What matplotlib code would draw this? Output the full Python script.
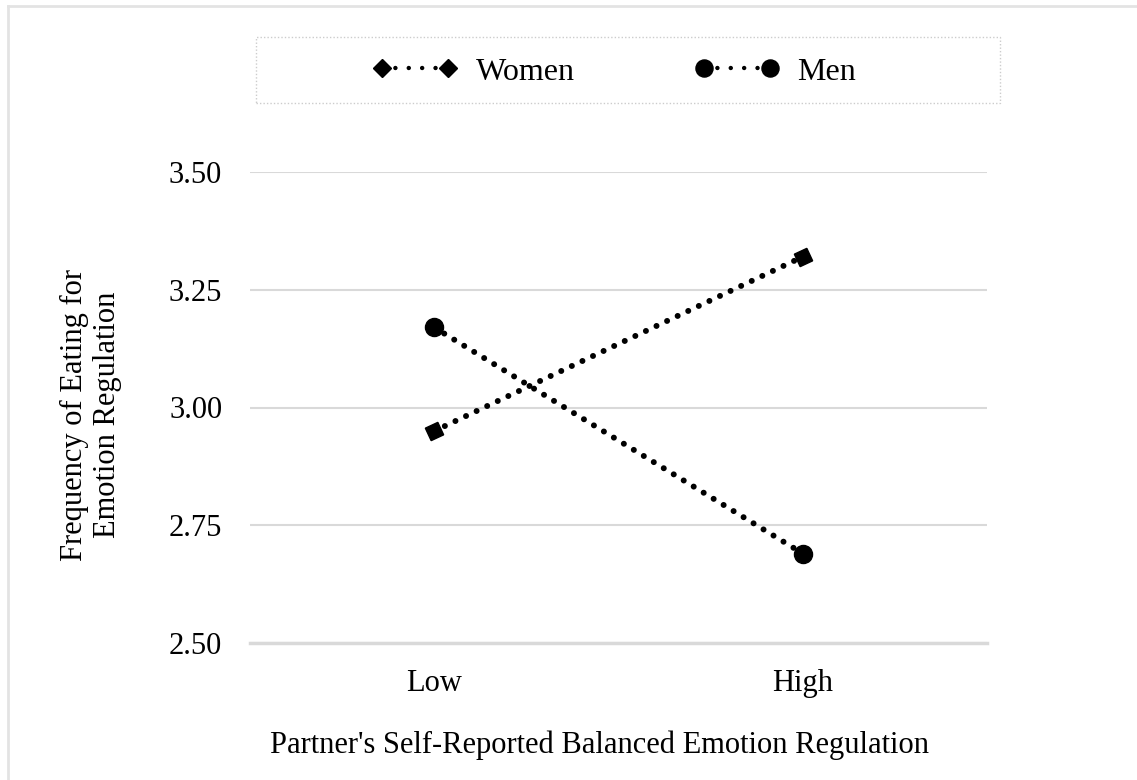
import matplotlib.pyplot as plt
from matplotlib.lines import Line2D
from matplotlib.legend_handler import HandlerLine2D

# Data
groups = ["Low", "High"]
women = [2.95, 3.32]
men = [3.17, 2.69]
y_ticks = [2.50, 2.75, 3.00, 3.25, 3.50]

plt.rcParams["font.family"] = ["Liberation Serif", "DejaVu Serif"]

DOTS = (0, (0.01, 1.95))
LW = 4.3

fig = plt.figure(figsize=(11.37, 7.8), dpi=100)
ax = fig.add_axes([250 / 1137, 1 - 643 / 780, 737 / 1137, 471 / 780])

x = [0, 1]
# diamonds in the plot are drawn tilted along the line
ax.plot(x, women, linestyle=DOTS, linewidth=LW, color="black",
        marker=(4, 0, 70), markersize=14, dash_capstyle="round", label="Women")
ax.plot(x, men, linestyle=DOTS, linewidth=LW, color="black",
        marker="o", markersize=13, dash_capstyle="round", label="Men")

ax.set_xlim(-0.5, 1.5)
ax.set_ylim(2.50, 3.50)
ax.set_xticks(x)
ax.set_xticklabels(groups)
ax.set_yticks(y_ticks)
ax.set_yticklabels([f"{v:.2f}" for v in y_ticks])
ax.tick_params(length=0, labelsize=22)
ax.tick_params(axis="y", pad=20)
ax.tick_params(axis="x", pad=19)
ax.grid(axis="y", color="#d9d9d9", linewidth=1.5)
ax.set_axisbelow(True)
for s in ["top", "right", "left"]:
    ax.spines[s].set_visible(False)
ax.spines["bottom"].set_color("#d9d9d9")
ax.spines["bottom"].set_linewidth(2.5)

ax.set_xlabel("Partner's Self-Reported Balanced Emotion Regulation", fontsize=22)
ax.xaxis.set_label_coords((600 - 250) / 737, -(745 - 643) / 471)
ax.xaxis.label.set_va("center")
ax.set_ylabel("Frequency of Eating for\nEmotion Regulation", fontsize=22, linespacing=1.15)
ax.yaxis.set_label_coords(-(250 - 91) / 737, (643 - 415) / 471)
ax.yaxis.label.set_va("center")

# Legend box
DOTS_LEG = (0, (0.01, 3.0))
handles = [
    Line2D([0], [0], color="black", linestyle=DOTS_LEG, linewidth=3.2,
           marker="D", markersize=9.3, dash_capstyle="round"),
    Line2D([0], [0], color="black", linestyle=DOTS_LEG, linewidth=3.2,
           marker="o", markersize=12.3, dash_capstyle="round"),
]
leg = fig.legend(handles, ["Women", "Men"], loc="center",
                 bbox_to_anchor=(619 / 1137, 1 - 72 / 780), ncol=2,
                 handler_map={Line2D: HandlerLine2D(marker_pad=0, numpoints=2)},
                 fontsize=23, frameon=False, columnspacing=4.05, handlelength=2.06,
                 handletextpad=0.85)
frame = plt.Rectangle((256 / 1137, 1 - 103 / 780), 744 / 1137, 66 / 780,
                      transform=fig.transFigure, fill=False,
                      edgecolor="#cccccc", linewidth=1, linestyle=(0, (1, 1.5)))
fig.add_artist(frame)

# outer border (top and left edges)
fig.add_artist(Line2D([8 / 1137, 8 / 1137], [0, 1 - 6 / 780], transform=fig.transFigure,
                      color="#e3e3e3", linewidth=2))
fig.add_artist(Line2D([8 / 1137, 1], [1 - 6 / 780, 1 - 6 / 780], transform=fig.transFigure,
                      color="#e3e3e3", linewidth=2))

fig.savefig("out.png", dpi=100, facecolor="white")
